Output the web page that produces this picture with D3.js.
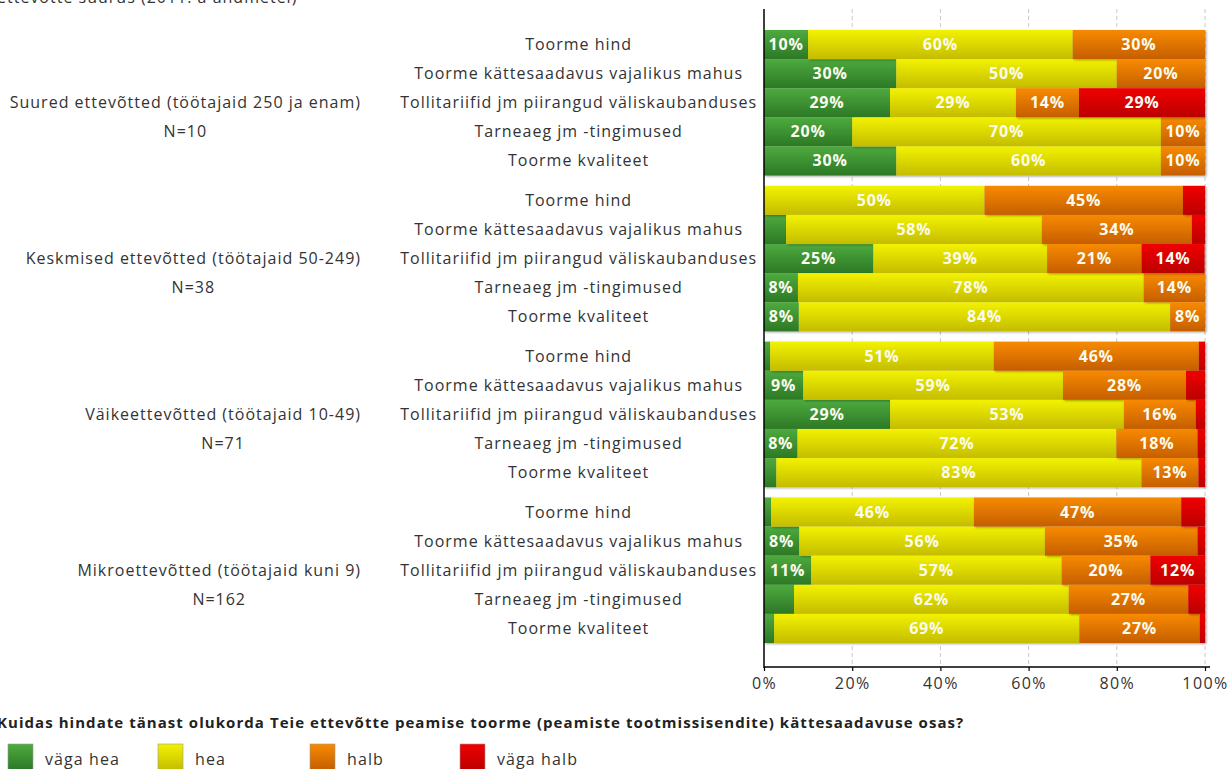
<!DOCTYPE html>
<html>
<head>
<meta charset="utf-8">
<script src="https://cdn.jsdelivr.net/npm/d3@7/dist/d3.min.js"></script>
<style>
  html, body { margin: 0; padding: 0; background: #ffffff; overflow: hidden; }
  svg { display: block; }
  text { font-family: "Open Sans", "DejaVu Sans", sans-serif; }
</style>
</head>
<body>
<svg id="chart" width="1231" height="769"></svg>
<script>
// ---------------- data ----------------
const topTitle = "ettevõtte suurus (2011. a andmetel)";
const question = "Kuidas hindate tänast olukorda Teie ettevõtte peamise toorme (peamiste tootmissisendite) kättesaadavuse osas?";
const groups = [
  "Suured ettevõtted (töötajaid 250 ja enam)",
  "Keskmised ettevõtted (töötajaid 50-249)",
  "Väikeettevõtted (töötajaid 10-49)",
  "Mikroettevõtted (töötajaid kuni 9)"
];
const groupN = ["N=10", "N=38", "N=71", "N=162"];
const categories = [
  "Toorme hind",
  "Toorme kättesaadavus vajalikus mahus",
  "Tollitariifid jm piirangud väliskaubanduses",
  "Tarneaeg jm -tingimused",
  "Toorme kvaliteet"
];
const seriesNames = ["väga hea", "hea", "halb", "väga halb"];
// values in %, 5 categories per group, groups in order above
const vagaHea  = [10, 30, 28.57, 20, 30,   0, 5, 24.8, 7.7, 7.9,   1.4, 8.9, 28.6, 7.6, 2.8,   1.6, 8, 10.7, 6.8, 2.3];
const hea      = [60, 50, 28.57, 70, 60,   50, 58, 39.4, 78.4, 84.2,   50.7, 58.9, 53, 72.3, 82.8,   46, 55.7, 56.8, 62.3, 69.2];
const halb     = [30, 20, 14.29, 10, 10,   45, 34, 21.4, 13.9, 7.9,   46.5, 27.9, 16.3, 18.4, 12.9,   47, 34.6, 20.1, 27.1, 27.3];
const vagaHalb = [0, 0, 28.57, 0, 0,   5, 3, 14.3, 0, 0,   1.4, 4.3, 2.1, 1.7, 1.5,   5.4, 1.7, 12.4, 3.8, 1.2];
const xTicks = [0, 20, 40, 60, 80, 100];

// ---------------- build table ----------------
const seriesValues = [vagaHea, hea, halb, vagaHalb];
const rows = [];
groups.forEach((g, gi) => {
  categories.forEach((c, ci) => {
    const idx = gi * categories.length + ci;
    const r = { group: g, cat: c };
    seriesNames.forEach((s, si) => { r[s] = seriesValues[si][idx]; });
    rows.push(r);
  });
});

const svg = d3.select("#chart");
const defs = svg.append("defs");
const gradColors = {
  "väga hea":  ["#4eaa3e", "#2c7826"],
  "hea":       ["#f2f200", "#c4bc00"],
  "halb":      ["#f88a00", "#c55e00"],
  "väga halb": ["#f00000", "#bb0000"]
};
seriesNames.forEach((s, i) => {
  const lg = defs.append("linearGradient").attr("id", "grad" + i)
    .attr("x1", 0).attr("y1", 0).attr("x2", 0).attr("y2", 1);
  lg.append("stop").attr("offset", "0%").attr("stop-color", gradColors[s][0]);
  lg.append("stop").attr("offset", "100%").attr("stop-color", gradColors[s][1]);
});
const f = defs.append("filter").attr("id", "shadow")
  .attr("x", "-5%").attr("y", "-10%").attr("width", "115%").attr("height", "130%");
f.append("feDropShadow").attr("dx", 1.5).attr("dy", 1).attr("stdDeviation", 1)
  .attr("flood-color", "#000").attr("flood-opacity", 0.35);

// ---------------- scales ----------------
const x = d3.scaleLinear().domain([0, 100]).range([764, 1205]);
const yGroup = d3.scaleBand().domain(groups).range([30, 643]).paddingInner(0.066).paddingOuter(0);
const yCat = d3.scaleBand().domain(categories).range([0, yGroup.bandwidth()]).padding(0);
const yOf = r => yGroup(r.group) + yCat(r.cat);

// ---------------- grid ----------------
const plotTop = 9, plotBottom = 667;
svg.append("g").selectAll("line").data(xTicks.filter(t => t > 0)).join("line")
  .attr("x1", d => x(d)).attr("x2", d => x(d))
  .attr("y1", plotTop).attr("y2", plotBottom)
  .attr("stroke", "#c8c8c8").attr("stroke-width", 1).attr("stroke-dasharray", "4,3");

// ---------------- bars ----------------
const stack = d3.stack().keys(seriesNames);
const stacked = stack(rows);
const barG = svg.append("g");
stacked.forEach((layer, si) => {
  barG.append("g").attr("filter", "url(#shadow)")
    .selectAll("rect").data(layer.filter(d => d[1] - d[0] > 0)).join("rect")
    .attr("x", d => x(d[0]))
    .attr("y", d => yOf(d.data))
    .attr("width", d => x(d[1]) - x(d[0]))
    .attr("height", yCat.bandwidth())
    .attr("fill", "url(#grad" + si + ")");
});
// labels
stacked.forEach((layer, si) => {
  barG.append("g").selectAll("text").data(layer.filter(d => d[1] - d[0] >= 7.5)).join("text")
    .attr("x", d => (x(d[0]) + x(d[1])) / 2)
    .attr("y", d => yOf(d.data) + yCat.bandwidth() / 2 + 5.5)
    .attr("text-anchor", "middle")
    .attr("font-size", 16).attr("font-weight", "bold")
    .attr("letter-spacing", 0.8)
    .attr("fill", "#fbfbef")
    .text(d => Math.round(d[1] - d[0]) + "%");
});

// ---------------- axes ----------------
const xAxis = d3.axisBottom(x).tickValues(xTicks).tickFormat(d => d + "%").tickSize(4).tickSizeOuter(0);
const ax = svg.append("g").attr("transform", `translate(0,${plotBottom})`).call(xAxis);
ax.select(".domain").attr("stroke", "#000").attr("stroke-width", 1.5)
  .attr("d", `M${x(0)},0H${x(100) + 5}`);
ax.selectAll(".tick line").attr("stroke", "#000").attr("stroke-width", 1.2);
ax.selectAll(".tick text").attr("font-size", 16).attr("fill", "#333").attr("dy", "0.95em")
  .attr("font-family", "'Open Sans', sans-serif").attr("letter-spacing", 1.4);
svg.append("line").attr("x1", x(0)).attr("x2", x(0)).attr("y1", plotTop).attr("y2", plotBottom + 1)
  .attr("stroke", "#000").attr("stroke-width", 1.5);

// category labels (centered in a column whose right edge is at 757)
const catG = svg.append("g");
const catTexts = catG.selectAll("text").data(rows).join("text")
  .attr("y", d => yOf(d) + yCat.bandwidth() / 2 + 5.5)
  .attr("text-anchor", "middle")
  .attr("font-size", 16).attr("fill", "#333")
  .attr("letter-spacing", 1.0)
  .text(d => d.cat);
let maxCatW = 0;
catTexts.each(function () { maxCatW = Math.max(maxCatW, this.getComputedTextLength()); });
catTexts.attr("x", 757 - maxCatW / 2);

// group labels
const gl = svg.append("g");
groups.forEach((g, gi) => {
  const y3 = yGroup(g) + yCat(categories[2]) + yCat.bandwidth() / 2 + 5.5;
  const y4 = yGroup(g) + yCat(categories[3]) + yCat.bandwidth() / 2 + 5.5;
  const t1 = gl.append("text").attr("x", 361).attr("y", y3).attr("text-anchor", "end")
    .attr("font-size", 16).attr("fill", "#333").attr("letter-spacing", 1.0).text(g);
  const w = t1.node().getComputedTextLength();
  gl.append("text").attr("x", 361 - w / 2).attr("y", y4).attr("text-anchor", "middle")
    .attr("font-size", 16).attr("fill", "#333").attr("letter-spacing", 1.0).text(groupN[gi]);
});

// top (cut) title
svg.append("text").attr("x", -3).attr("y", 3).attr("font-size", 16).attr("fill", "#333")
  .attr("letter-spacing", 1.0).text(topTitle);

// question title
svg.append("text").attr("x", -3).attr("y", 728).attr("font-size", 15).attr("font-weight", "bold")
  .attr("letter-spacing", 1.05).attr("fill", "#222").text(question);

// legend
const legX = [8, 158, 310, 460];
const leg = svg.append("g");
seriesNames.forEach((s, i) => {
  leg.append("rect").attr("x", legX[i]).attr("y", 744).attr("width", 25).attr("height", 26)
    .attr("fill", "url(#grad" + i + ")").attr("stroke", "#999").attr("stroke-width", 0.6);
  leg.append("text").attr("x", legX[i] + 37).attr("y", 765).attr("font-size", 16)
    .attr("fill", "#333").attr("letter-spacing", 1.1).text(s);
});
</script>
</body>
</html>
